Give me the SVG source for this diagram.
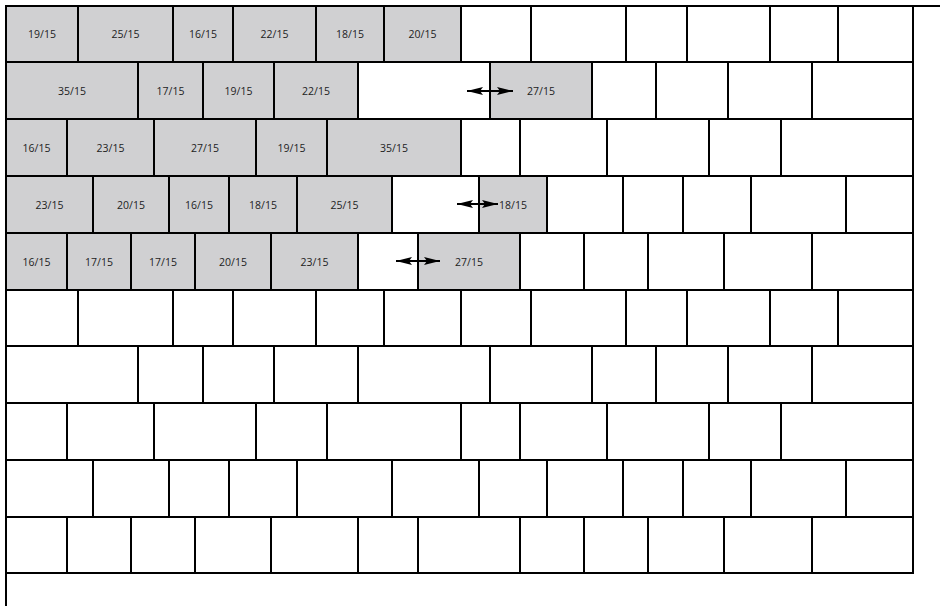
<svg xmlns="http://www.w3.org/2000/svg" width="940" height="606" viewBox="0 0 940 606">
<style>
rect{stroke:#000;stroke-width:2}
.g{fill:#D0D0D2}
.w{fill:#fff}
text{font-family:"Open Sans","Liberation Sans",sans-serif;font-size:10.5px;fill:#222;text-anchor:middle}
.b{stroke:#000;stroke-width:2;fill:none}
.a{stroke:#000;stroke-width:2;fill:none;marker-start:url(#ah);marker-end:url(#ah)}
</style>
<defs>
<marker id="ah" markerUnits="userSpaceOnUse" markerWidth="16" markerHeight="8" refX="16" refY="4" orient="auto-start-reverse" viewBox="0 0 16 8">
<path d="M0,0 L16,4 L0,8 L3,4 z" fill="#000"/>
</marker>
</defs>
<rect x="0" y="0" width="940" height="606" fill="#fff" style="stroke:none"/>
<!-- Row 1 -->
<g id="r1c1"><rect class="g" x="6" y="6" width="72" height="56"/><text x="42" y="38">19/15</text></g>
<g id="r1c2"><rect class="g" x="78" y="6" width="95" height="56"/><text x="125.5" y="38">25/15</text></g>
<g id="r1c3"><rect class="g" x="173" y="6" width="60" height="56"/><text x="203" y="38">16/15</text></g>
<g id="r1c4"><rect class="g" x="233" y="6" width="83" height="56"/><text x="274.5" y="38">22/15</text></g>
<g id="r1c5"><rect class="g" x="316" y="6" width="68" height="56"/><text x="350" y="38">18/15</text></g>
<g id="r1c6"><rect class="g" x="384" y="6" width="77" height="56"/><text x="422.5" y="38">20/15</text></g>
<g id="r1c7"><rect class="w" x="461" y="6" width="70" height="56"/></g>
<g id="r1c8"><rect class="w" x="531" y="6" width="95" height="56"/></g>
<g id="r1c9"><rect class="w" x="626" y="6" width="61" height="56"/></g>
<g id="r1c10"><rect class="w" x="687" y="6" width="83" height="56"/></g>
<g id="r1c11"><rect class="w" x="770" y="6" width="68" height="56"/></g>
<g id="r1c12"><rect class="w" x="838" y="6" width="75" height="56"/></g>
<!-- Row 2 -->
<g id="r2c1"><rect class="g" x="6" y="62" width="132" height="57"/><text x="72" y="94.5">35/15</text></g>
<g id="r2c2"><rect class="g" x="138" y="62" width="65" height="57"/><text x="170.5" y="94.5">17/15</text></g>
<g id="r2c3"><rect class="g" x="203" y="62" width="71" height="57"/><text x="238.5" y="94.5">19/15</text></g>
<g id="r2c4"><rect class="g" x="274" y="62" width="84" height="57"/><text x="316" y="94.5">22/15</text></g>
<g id="r2c5"><rect class="w" x="358" y="62" width="132" height="57"/></g>
<g id="r2c6"><rect class="g" x="490" y="62" width="102" height="57"/><text x="541" y="94.5">27/15</text></g>
<g id="r2c7"><rect class="w" x="592" y="62" width="64" height="57"/></g>
<g id="r2c8"><rect class="w" x="656" y="62" width="72" height="57"/></g>
<g id="r2c9"><rect class="w" x="728" y="62" width="84" height="57"/></g>
<g id="r2c10"><rect class="w" x="812" y="62" width="101" height="57"/></g>
<!-- Row 3 -->
<g id="r3c1"><rect class="g" x="6" y="119" width="61" height="57"/><text x="36.5" y="151.5">16/15</text></g>
<g id="r3c2"><rect class="g" x="67" y="119" width="87" height="57"/><text x="110.5" y="151.5">23/15</text></g>
<g id="r3c3"><rect class="g" x="154" y="119" width="102" height="57"/><text x="205" y="151.5">27/15</text></g>
<g id="r3c4"><rect class="g" x="256" y="119" width="71" height="57"/><text x="291.5" y="151.5">19/15</text></g>
<g id="r3c5"><rect class="g" x="327" y="119" width="134" height="57"/><text x="394" y="151.5">35/15</text></g>
<g id="r3c6"><rect class="w" x="461" y="119" width="59" height="57"/></g>
<g id="r3c7"><rect class="w" x="520" y="119" width="87" height="57"/></g>
<g id="r3c8"><rect class="w" x="607" y="119" width="102" height="57"/></g>
<g id="r3c9"><rect class="w" x="709" y="119" width="72" height="57"/></g>
<g id="r3c10"><rect class="w" x="781" y="119" width="132" height="57"/></g>
<!-- Row 4 -->
<g id="r4c1"><rect class="g" x="6" y="176" width="87" height="57"/><text x="49.5" y="208.5">23/15</text></g>
<g id="r4c2"><rect class="g" x="93" y="176" width="76" height="57"/><text x="131" y="208.5">20/15</text></g>
<g id="r4c3"><rect class="g" x="169" y="176" width="60" height="57"/><text x="199" y="208.5">16/15</text></g>
<g id="r4c4"><rect class="g" x="229" y="176" width="68" height="57"/><text x="263" y="208.5">18/15</text></g>
<g id="r4c5"><rect class="g" x="297" y="176" width="95" height="57"/><text x="344.5" y="208.5">25/15</text></g>
<g id="r4c6"><rect class="w" x="392" y="176" width="87" height="57"/></g>
<g id="r4c7"><rect class="g" x="479" y="176" width="68" height="57"/><text x="513" y="208.5">18/15</text></g>
<g id="r4c8"><rect class="w" x="547" y="176" width="76" height="57"/></g>
<g id="r4c9"><rect class="w" x="623" y="176" width="60" height="57"/></g>
<g id="r4c10"><rect class="w" x="683" y="176" width="68" height="57"/></g>
<g id="r4c11"><rect class="w" x="751" y="176" width="95" height="57"/></g>
<g id="r4c12"><rect class="w" x="846" y="176" width="67" height="57"/></g>
<!-- Row 5 -->
<g id="r5c1"><rect class="g" x="6" y="233" width="61" height="57"/><text x="36.5" y="265.5">16/15</text></g>
<g id="r5c2"><rect class="g" x="67" y="233" width="64" height="57"/><text x="99" y="265.5">17/15</text></g>
<g id="r5c3"><rect class="g" x="131" y="233" width="64" height="57"/><text x="163" y="265.5">17/15</text></g>
<g id="r5c4"><rect class="g" x="195" y="233" width="76" height="57"/><text x="233" y="265.5">20/15</text></g>
<g id="r5c5"><rect class="g" x="271" y="233" width="87" height="57"/><text x="314.5" y="265.5">23/15</text></g>
<g id="r5c6"><rect class="w" x="358" y="233" width="60" height="57"/></g>
<g id="r5c7"><rect class="g" x="418" y="233" width="102" height="57"/><text x="469" y="265.5">27/15</text></g>
<g id="r5c8"><rect class="w" x="520" y="233" width="64" height="57"/></g>
<g id="r5c9"><rect class="w" x="584" y="233" width="64" height="57"/></g>
<g id="r5c10"><rect class="w" x="648" y="233" width="76" height="57"/></g>
<g id="r5c11"><rect class="w" x="724" y="233" width="88" height="57"/></g>
<g id="r5c12"><rect class="w" x="812" y="233" width="101" height="57"/></g>
<!-- Row 6 -->
<g id="r6c1"><rect class="w" x="6" y="290" width="72" height="56"/></g>
<g id="r6c2"><rect class="w" x="78" y="290" width="95" height="56"/></g>
<g id="r6c3"><rect class="w" x="173" y="290" width="60" height="56"/></g>
<g id="r6c4"><rect class="w" x="233" y="290" width="83" height="56"/></g>
<g id="r6c5"><rect class="w" x="316" y="290" width="68" height="56"/></g>
<g id="r6c6"><rect class="w" x="384" y="290" width="77" height="56"/></g>
<g id="r6c7"><rect class="w" x="461" y="290" width="70" height="56"/></g>
<g id="r6c8"><rect class="w" x="531" y="290" width="95" height="56"/></g>
<g id="r6c9"><rect class="w" x="626" y="290" width="61" height="56"/></g>
<g id="r6c10"><rect class="w" x="687" y="290" width="83" height="56"/></g>
<g id="r6c11"><rect class="w" x="770" y="290" width="68" height="56"/></g>
<g id="r6c12"><rect class="w" x="838" y="290" width="75" height="56"/></g>
<!-- Row 7 -->
<g id="r7c1"><rect class="w" x="6" y="346" width="132" height="57"/></g>
<g id="r7c2"><rect class="w" x="138" y="346" width="65" height="57"/></g>
<g id="r7c3"><rect class="w" x="203" y="346" width="71" height="57"/></g>
<g id="r7c4"><rect class="w" x="274" y="346" width="84" height="57"/></g>
<g id="r7c5"><rect class="w" x="358" y="346" width="132" height="57"/></g>
<g id="r7c6"><rect class="w" x="490" y="346" width="102" height="57"/></g>
<g id="r7c7"><rect class="w" x="592" y="346" width="64" height="57"/></g>
<g id="r7c8"><rect class="w" x="656" y="346" width="72" height="57"/></g>
<g id="r7c9"><rect class="w" x="728" y="346" width="84" height="57"/></g>
<g id="r7c10"><rect class="w" x="812" y="346" width="101" height="57"/></g>
<!-- Row 8 -->
<g id="r8c1"><rect class="w" x="6" y="403" width="61" height="57"/></g>
<g id="r8c2"><rect class="w" x="67" y="403" width="87" height="57"/></g>
<g id="r8c3"><rect class="w" x="154" y="403" width="102" height="57"/></g>
<g id="r8c4"><rect class="w" x="256" y="403" width="71" height="57"/></g>
<g id="r8c5"><rect class="w" x="327" y="403" width="134" height="57"/></g>
<g id="r8c6"><rect class="w" x="461" y="403" width="59" height="57"/></g>
<g id="r8c7"><rect class="w" x="520" y="403" width="87" height="57"/></g>
<g id="r8c8"><rect class="w" x="607" y="403" width="102" height="57"/></g>
<g id="r8c9"><rect class="w" x="709" y="403" width="72" height="57"/></g>
<g id="r8c10"><rect class="w" x="781" y="403" width="132" height="57"/></g>
<!-- Row 9 -->
<g id="r9c1"><rect class="w" x="6" y="460" width="87" height="57"/></g>
<g id="r9c2"><rect class="w" x="93" y="460" width="76" height="57"/></g>
<g id="r9c3"><rect class="w" x="169" y="460" width="60" height="57"/></g>
<g id="r9c4"><rect class="w" x="229" y="460" width="68" height="57"/></g>
<g id="r9c5"><rect class="w" x="297" y="460" width="95" height="57"/></g>
<g id="r9c6"><rect class="w" x="392" y="460" width="87" height="57"/></g>
<g id="r9c7"><rect class="w" x="479" y="460" width="68" height="57"/></g>
<g id="r9c8"><rect class="w" x="547" y="460" width="76" height="57"/></g>
<g id="r9c9"><rect class="w" x="623" y="460" width="60" height="57"/></g>
<g id="r9c10"><rect class="w" x="683" y="460" width="68" height="57"/></g>
<g id="r9c11"><rect class="w" x="751" y="460" width="95" height="57"/></g>
<g id="r9c12"><rect class="w" x="846" y="460" width="67" height="57"/></g>
<!-- Row 10 -->
<g id="r10c1"><rect class="w" x="6" y="517" width="61" height="56"/></g>
<g id="r10c2"><rect class="w" x="67" y="517" width="64" height="56"/></g>
<g id="r10c3"><rect class="w" x="131" y="517" width="64" height="56"/></g>
<g id="r10c4"><rect class="w" x="195" y="517" width="76" height="56"/></g>
<g id="r10c5"><rect class="w" x="271" y="517" width="87" height="56"/></g>
<g id="r10c6"><rect class="w" x="358" y="517" width="60" height="56"/></g>
<g id="r10c7"><rect class="w" x="418" y="517" width="102" height="56"/></g>
<g id="r10c8"><rect class="w" x="520" y="517" width="64" height="56"/></g>
<g id="r10c9"><rect class="w" x="584" y="517" width="64" height="56"/></g>
<g id="r10c10"><rect class="w" x="648" y="517" width="76" height="56"/></g>
<g id="r10c11"><rect class="w" x="724" y="517" width="88" height="56"/></g>
<g id="r10c12"><rect class="w" x="812" y="517" width="101" height="56"/></g>
<!-- outer border lines -->
<g id="border">
<line class="b" x1="5" y1="6" x2="940" y2="6"/>
<line class="b" x1="6" y1="5" x2="6" y2="606"/>
</g>
<!-- connectors -->
<g id="connectors">
<line class="a" x1="467" y1="91" x2="513" y2="91"/>
<line class="a" x1="457" y1="204" x2="498" y2="204"/>
<line class="a" x1="396" y1="261" x2="440" y2="261"/>
</g>
</svg>
